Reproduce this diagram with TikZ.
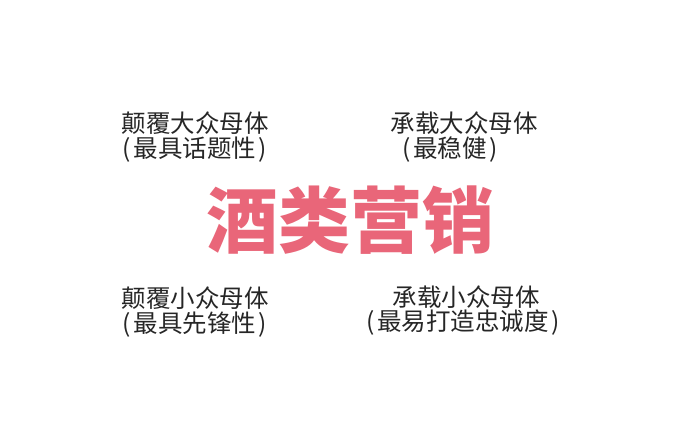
\documentclass[tikz,border=0pt]{standalone}
\usepackage{fontspec}
\newfontfamily\cjk{Noto Sans CJK SC}
\definecolor{wine}{RGB}{233,102,121}
\newcommand\lp{(\kern2.5pt}
\newcommand\rp{\kern2.5pt)}
\begin{document}
\begin{tikzpicture}[x=1pt,y=-1pt,
  quad/.style={inner sep=0pt,font=\cjk\fontsize{24.5}{26}\selectfont,text=black!85},
  title/.style={inner sep=0pt,font=\cjk\bfseries\fontsize{72}{74}\selectfont,text=wine}]
\useasboundingbox[fill=white] (0,0) rectangle (700,438);
\node[title] (t) at (350,220) {酒类营销};
\node[quad] (a1) at (195,123) {颠覆大众母体};
\node[quad] (a2) at (195,150) {\lp 最具话题性\rp};
\node[quad] (b1) at (464,123) {承载大众母体};
\node[quad] (b2) at (450,150) {\lp 最稳健\rp};
\node[quad] (c1) at (195,298) {颠覆小众母体};
\node[quad] (c2) at (195,325) {\lp 最具先锋性\rp};
\node[quad] (d1) at (466,297) {承载小众母体};
\node[quad] (d2) at (463,323) {\lp 最易打造忠诚度\rp};
\end{tikzpicture}
\end{document}
